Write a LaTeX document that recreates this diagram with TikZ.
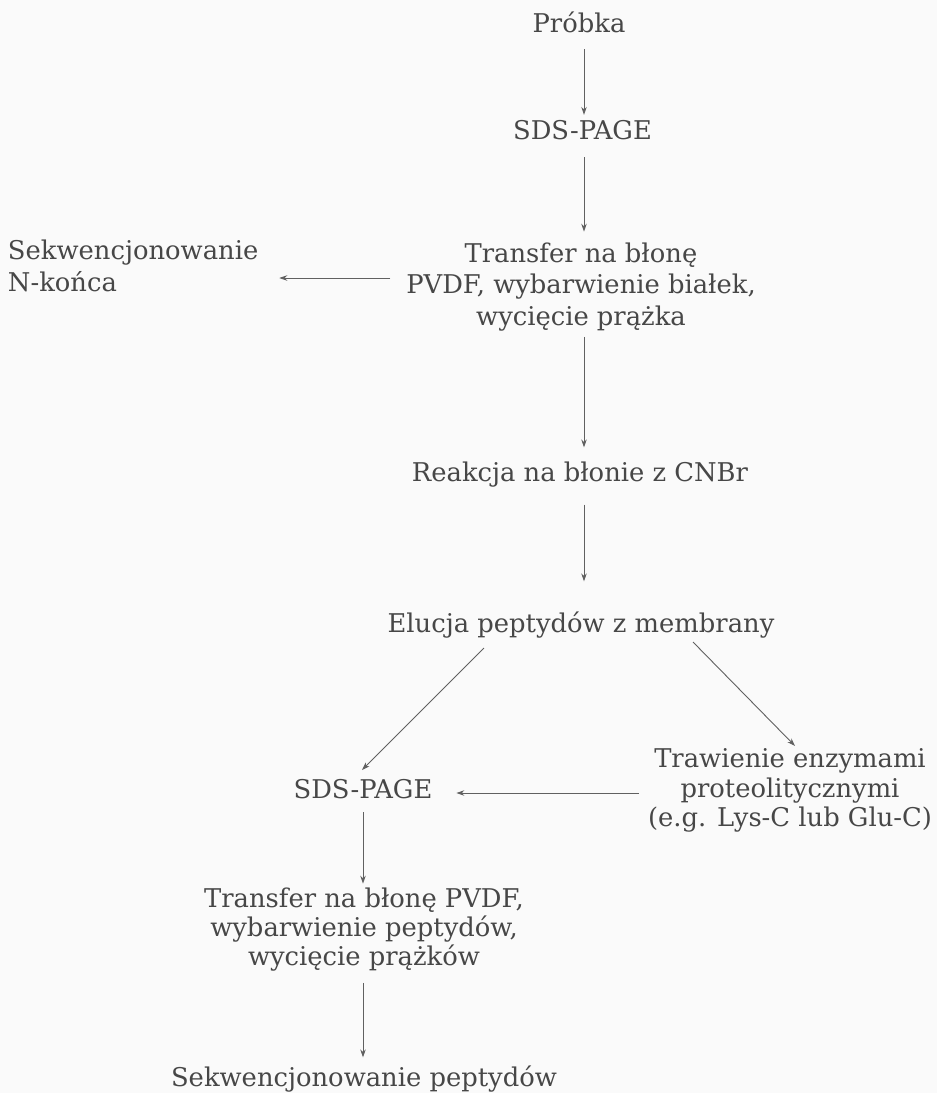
\documentclass[tikz,border=0pt]{standalone}
\usepackage{fontspec}
\setmainfont{DejaVu Serif}
\usetikzlibrary{arrows.meta,calc}
\definecolor{ink}{HTML}{474747}
\definecolor{lin}{HTML}{606060}
\definecolor{paper}{HTML}{FAFAFA}
\begin{document}
\begin{tikzpicture}[x=1pt,y=-1pt,
  lbl/.style={inner sep=0pt, outer sep=0pt, text=ink, align=center,
              font=\fontsize{25.8}{31.5}\selectfont},
  tight/.style={font=\fontsize{25.8}{29}\selectfont},
  arr/.style={draw=lin, line width=0.9pt, -{Stealth[length=8pt,width=5.5pt]}}]
\fill[paper] (0,0) rectangle (937,1093);
\useasboundingbox (0,0) rectangle (937,1093);
\coordinate (ax) at (584,0);
\coordinate (bx) at (363,0);
\coordinate (ay) at (0,278);
\coordinate (by) at (0,793);
% nodes
\node[lbl, anchor=base] (probka) at (579,32) {Próbka};
\node[lbl, anchor=base] (sds1) at (582.5,139) {SDS-PAGE};
\node[lbl] (transfer1) at (581,286.8) {Transfer na błonę\\PVDF, wybarwienie białek,\\wycięcie prążka};
\node[lbl, anchor=west, align=left, font=\fontsize{25.8}{32}\selectfont] (sekn) at (8,265.4) {Sekwencjonowanie\\N-końca};
\node[lbl, anchor=base] (reakcja) at (580,481) {Reakcja na błonie z CNBr};
\node[lbl, anchor=base] (elucja) at (581,632) {Elucja peptydów z membrany};
\node[lbl, anchor=base] (sds2) at (363,798) {SDS-PAGE};
\node[lbl, tight, font=\fontsize{25.8}{29.5}\selectfont] (trawienie) at (790,790.8) {Trawienie enzymami\\proteolitycznymi\\(e.g. Lys-C lub Glu-C)};
\node[lbl, tight] (transfer2) at (364,929.3) {Transfer na błonę PVDF,\\wybarwienie peptydów,\\wycięcie prążków};
\node[lbl, anchor=base] (sekpep) at (364,1086) {Sekwencjonowanie peptydów};
% connectors
\draw[arr, shorten <=17pt, shorten >=5pt] (probka.south -| ax) -- (sds1.north -| ax);
\draw[arr, shorten <=18pt, shorten >=11pt] (sds1.south -| ax) -- (transfer1.north -| ax);
\draw[arr, shorten <=6pt, shorten >=14pt] (transfer1.south -| ax) -- (reakcja.north -| ax);
\draw[arr, shorten <=16pt, shorten >=21pt] (transfer1.west |- ay) -- (sekn.east |- ay);
\draw[arr, shorten <=18pt, shorten >=30pt] (reakcja.south -| ax) -- (elucja.north -| ax);
\draw[arr] ($(elucja.base)+(-97,16)$) -- ($(sds2.base)+(-1,-28)$);
\draw[arr] ($(elucja.base)+(112,10)$) -- ($(trawienie.north)+(5,-3)$);
\draw[arr, shorten <=9pt, shorten >=24pt] (trawienie.west |- by) -- (sds2.east |- by);
\draw[arr, shorten <=14pt, shorten >=4pt] (sds2.south -| bx) -- (transfer2.north -| bx);
\draw[arr, shorten <=12pt, shorten >=8pt] (transfer2.south -| bx) -- (sekpep.north -| bx);
\end{tikzpicture}
\end{document}
